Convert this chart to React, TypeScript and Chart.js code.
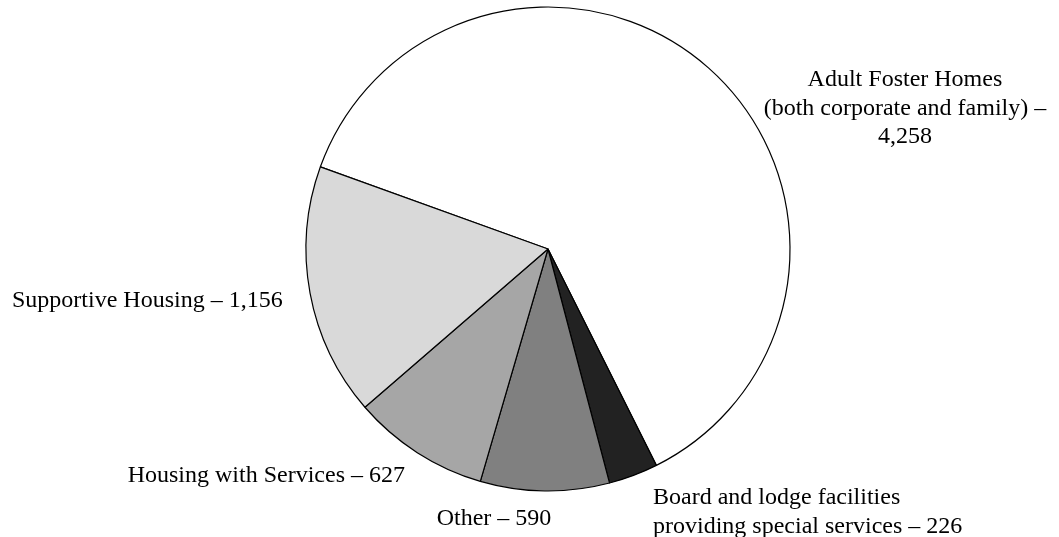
import React, { useEffect, useRef } from "react";
import { Chart, registerables } from "chart.js";

Chart.register(...registerables);

// ---- Data ----
const categories: string[] = [
  "Adult Foster Homes (both corporate and family)",
  "Board and lodge facilities providing special services",
  "Other",
  "Housing with Services",
  "Supportive Housing",
];
const values: number[] = [4258, 226, 590, 627, 1156];
// label lines; "{v}" is replaced by the formatted value
const labelLines: string[][] = [
  ["Adult Foster Homes", "(both corporate and family) –", "{v}"],
  ["Board and lodge facilities", "providing special services – {v}"],
  ["Other – {v}"],
  ["Housing with Services – {v}"],
  ["Supportive Housing – {v}"],
];

// ---- Styles / placement ----
const sliceColors = ["#ffffff", "#222222", "#808080", "#a6a6a6", "#d9d9d9"];
// label anchors in units of the pie radius, relative to the pie center
const labelPlacement: { dx: number; dy: number; align: CanvasTextAlign }[] = [
  { dx: 1.475, dy: -0.673, align: "center" },
  { dx: 0.434, dy: 1.054, align: "left" },
  { dx: -0.223, dy: 1.14, align: "center" },
  { dx: -0.591, dy: 0.964, align: "right" },
  { dx: -2.215, dy: 0.238, align: "left" },
];
const FONT = "24px 'Liberation Serif', 'Times New Roman', serif";
const LINE_HEIGHT = 28.5;

const labelPlugin = {
  id: "pieLabels",
  afterDatasetsDraw(chart: any) {
    const meta = chart.getDatasetMeta(0);
    const ctx: CanvasRenderingContext2D = chart.ctx;
    ctx.save();
    ctx.font = FONT;
    ctx.fillStyle = "#000000";
    ctx.textBaseline = "alphabetic";
    meta.data.forEach((arc: any, i: number) => {
      const p = labelPlacement[i];
      const r = arc.outerRadius;
      const x = arc.x + p.dx * r;
      const y = arc.y + p.dy * r;
      ctx.textAlign = p.align;
      const formatted = values[i].toLocaleString("en-US");
      labelLines[i].forEach((line, j) => {
        ctx.fillText(line.replace("{v}", formatted), x, y + j * LINE_HEIGHT);
      });
    });
    ctx.restore();
  },
};

export default function App() {
  const canvasRef = useRef<HTMLCanvasElement | null>(null);

  useEffect(() => {
    if (!canvasRef.current) return;
    const chart = new Chart(canvasRef.current, {
      type: "pie",
      data: {
        labels: categories,
        datasets: [
          {
            data: values,
            backgroundColor: sliceColors,
            borderColor: "#000000",
            borderWidth: 1.2,
          },
        ],
      },
      options: {
        responsive: false,
        animation: false,
        rotation: -70.15,
        radius: 242,
        layout: { padding: { left: 37, right: 0, top: 0, bottom: 39 } },
        plugins: {
          legend: { display: false },
          tooltip: { enabled: false },
        },
      } as any,
      plugins: [labelPlugin],
    });
    return () => chart.destroy();
  }, []);

  return (
    <div
      style={{
        position: "fixed",
        left: 0,
        top: 0,
        width: 1059,
        height: 537,
        background: "#ffffff",
      }}
    >
      <canvas ref={canvasRef} width={1059} height={537} />
    </div>
  );
}
